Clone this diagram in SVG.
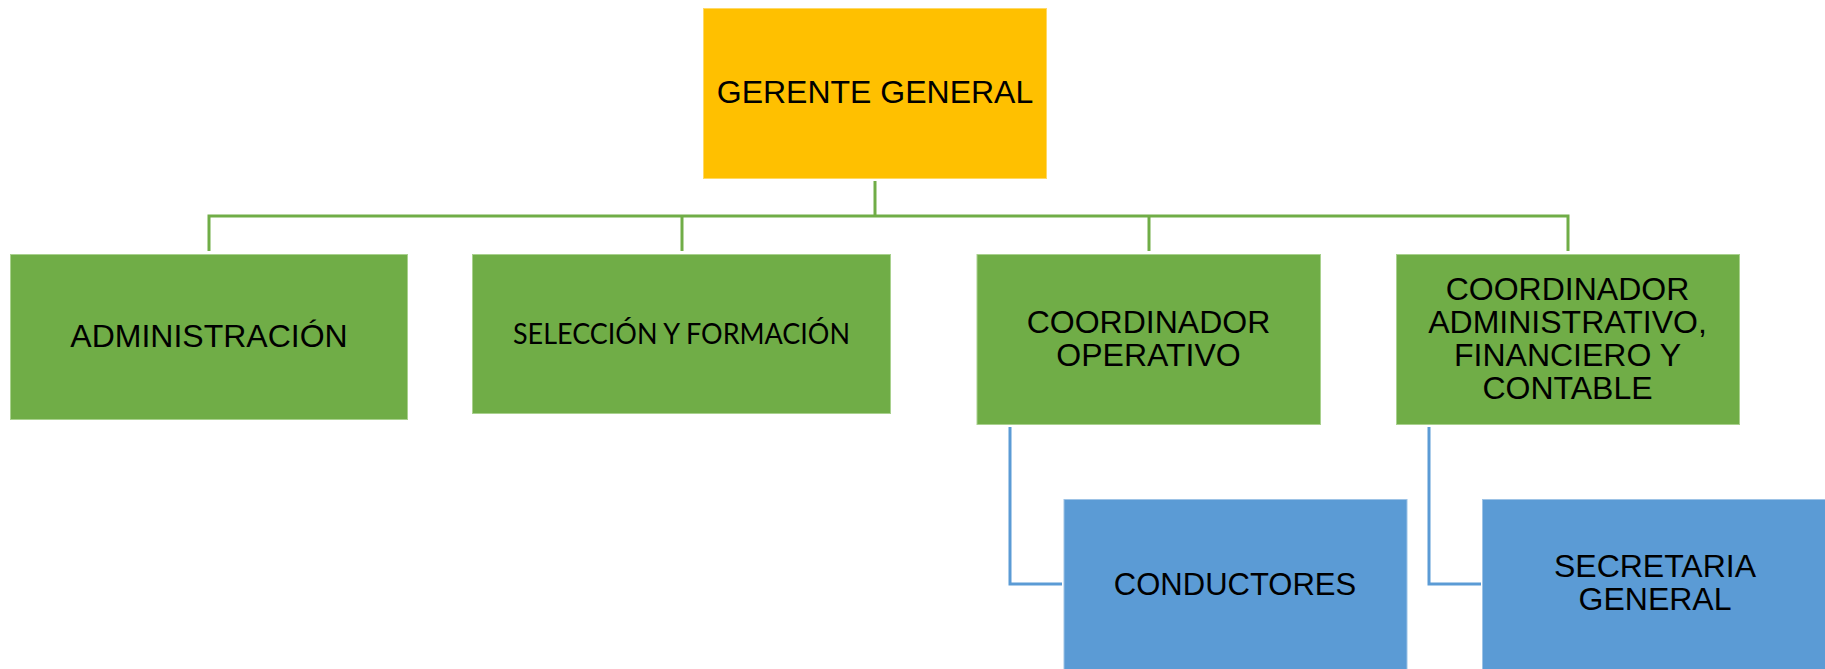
<svg xmlns="http://www.w3.org/2000/svg" width="1825" height="669" viewBox="0 0 1825 669">
<style>
.gold{fill:#FFC000;stroke:#FFD966;stroke-width:1}
.green{fill:#70AD47;stroke:#A9D18E;stroke-width:1}
.blue{fill:#5B9BD5;stroke:#9DC3E6;stroke-width:1}
.t{font-family:"Liberation Sans",Arial,sans-serif;font-size:32px;fill:#000;text-anchor:middle}
.c{font-family:Lato,"Open Sans",sans-serif;font-size:29px;fill:#000;text-anchor:middle}
.lg{fill:none;stroke:#70AD47;stroke-width:3}
.lb{fill:none;stroke:#5B9BD5;stroke-width:3}
</style>
<rect width="1825" height="669" fill="#fff"/>
<g id="connectors">
<line class="lg" x1="875" y1="181" x2="875" y2="216"/>
<polyline class="lg" points="209,251 209,216 1568,216 1568,251"/>
<line class="lg" x1="682" y1="216" x2="682" y2="251"/>
<line class="lg" x1="1149" y1="216" x2="1149" y2="251"/>
<polyline class="lb" points="1010,427 1010,584 1062,584"/>
<polyline class="lb" points="1429,427 1429,584 1481,584"/>
</g>
<g id="gerente">
<rect class="gold" x="703.5" y="8.5" width="343" height="170"/>
<text class="t" x="875" y="103">GERENTE GENERAL</text>
</g>
<g id="administracion">
<rect class="green" x="10.5" y="254.5" width="397" height="165"/>
<text class="t" x="209" y="347">ADMINISTRACIÓN</text>
</g>
<g id="seleccion">
<rect class="green" x="472.5" y="254.5" width="418" height="159"/>
<text class="c" x="681.5" y="343.5" textLength="337" lengthAdjust="spacingAndGlyphs">SELECCIÓN Y FORMACIÓN</text>
</g>
<g id="coord-operativo">
<rect class="green" x="977" y="254.5" width="343.5" height="170"/>
<text class="t" x="1148.5" y="333">COORDINADOR</text>
<text class="t" x="1148.5" y="366">OPERATIVO</text>
</g>
<g id="coord-administrativo">
<rect class="green" x="1396.5" y="254.5" width="343" height="170"/>
<text class="t" x="1567.5" y="300">COORDINADOR</text>
<text class="t" x="1567.5" y="333">ADMINISTRATIVO,</text>
<text class="t" x="1567.5" y="366">FINANCIERO Y</text>
<text class="t" x="1567.5" y="399">CONTABLE</text>
</g>
<g id="conductores">
<rect class="blue" x="1064" y="499.5" width="343" height="175"/>
<text class="t" x="1235" y="595" style="font-size:31px">CONDUCTORES</text>
</g>
<g id="secretaria">
<rect class="blue" x="1482.5" y="499.5" width="350" height="175"/>
<text class="t" x="1655" y="577">SECRETARIA</text>
<text class="t" x="1655" y="610">GENERAL</text>
</g>
</svg>
